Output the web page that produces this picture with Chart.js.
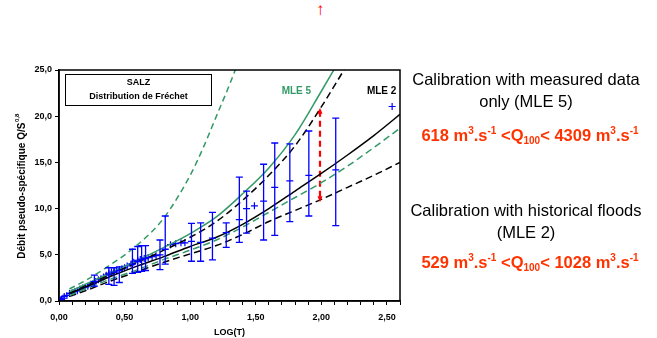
<!DOCTYPE html>
<html lang="fr">
<head>
<meta charset="UTF-8">
<title>SALZ - Distribution de Fréchet</title>
<script src="https://cdn.jsdelivr.net/npm/chart.js"></script>
<style>
    body { margin: 0; background: #fff; font-family: "Liberation Sans", Arial, sans-serif; }
    .page { position: relative; width: 657px; height: 338px; overflow: hidden; }
    .chart-box { position: absolute; left: 0; top: 0; width: 410px; height: 338px; }
    .note { position: absolute; left: 401px; width: 250px; text-align: center; font-size: 16.5px; line-height: 22px; color: #000; }
    .range { position: absolute; left: 405px; width: 250px; text-align: center; font-size: 16.5px; font-weight: bold; color: #ff3300; white-space: nowrap; }
    .range sup { font-size: 10px; vertical-align: 7px; }
    .range sub { font-size: 10px; vertical-align: -3px; }
    .top-arrow { position: absolute; left: 316px; top: 0px; color: #ff0000; font-size: 17px; font-weight: bold; }
</style>
</head>
<body>
<div class="page">
    <span class="top-arrow">↑</span>
    <div class="chart-box"><canvas id="chart" width="410" height="338"></canvas></div>

    <div class="note" style="top:68px;">Calibration with measured data<br>only (MLE 5)</div>
    <div class="range" style="top:125px;">618 m<sup>3</sup>.s<sup>-1</sup> &lt;Q<sub>100</sub>&lt; 4309 m<sup>3</sup>.s<sup>-1</sup></div>

    <div class="note" style="top:199px;">Calibration with historical floods<br>(MLE 2)</div>
    <div class="range" style="top:252px;">529 m<sup>3</sup>.s<sup>-1</sup> &lt;Q<sub>100</sub>&lt; 1028 m<sup>3</sup>.s<sup>-1</sup></div>
</div>

<script>
// courbes de Fréchet
const mle5UpX = [0.08, 0.2, 0.4, 0.6, 0.8, 1.0, 1.1, 1.2, 1.3, 1.36];
const mle5UpY = [1.3, 2.2, 4.0, 6.1, 9.0, 13.6, 16.6, 20.0, 23.4, 25.6];

const mle5X = [0.08, 0.2, 0.4, 0.6, 0.8, 1.0, 1.2, 1.4, 1.6, 1.8, 2.0, 2.12];
const mle5Y = [1.0, 1.8, 3.1, 4.4, 5.8, 7.3, 9.1, 11.6, 14.4, 18.0, 22.7, 25.6];

const mle2UpX = [0.08, 0.2, 0.4, 0.6, 0.8, 1.0, 1.2, 1.4, 1.6, 1.8, 2.0, 2.19];
const mle2UpY = [0.9, 1.7, 2.9, 4.2, 5.5, 6.9, 8.6, 10.9, 13.6, 16.8, 21.0, 25.4];

const mle2X = [0.08, 0.2, 0.4, 0.6, 0.8, 1.0, 1.2, 1.4, 1.6, 1.8, 2.0, 2.2, 2.4, 2.6];
const mle2Y = [0.8, 1.5, 2.7, 3.8, 4.8, 5.9, 6.9, 8.3, 10.0, 11.9, 13.8, 15.8, 17.9, 20.2];

const mle5LowX = [0.08, 0.2, 0.4, 0.6, 0.8, 1.0, 1.2, 1.4, 1.6, 1.8, 2.0, 2.2, 2.4, 2.6];
const mle5LowY = [0.6, 1.3, 2.4, 3.4, 4.5, 5.5, 6.6, 8.0, 9.6, 11.2, 12.8, 14.6, 16.6, 18.7];

const mle2LowX = [0.08, 0.2, 0.4, 0.6, 0.8, 1.0, 1.2, 1.4, 1.6, 1.8, 2.0, 2.2, 2.4, 2.6];
const mle2LowY = [0.5, 1.1, 2.2, 3.2, 4.2, 5.1, 6.0, 7.2, 8.6, 9.8, 11.0, 12.3, 13.6, 15.0];

// observations (croix bleues)
const obsX = [0.01, 0.02, 0.03, 0.04, 0.06, 0.08, 0.10, 0.12, 0.14, 0.16, 0.18, 0.20, 0.22, 0.24,
              0.26, 0.28, 0.30, 0.32, 0.34, 0.36, 0.38, 0.40, 0.42, 0.44, 0.46, 0.48, 0.50, 0.52,
              0.55, 0.57, 0.60, 0.62, 0.65, 0.68, 0.71, 0.74, 0.85, 0.89, 0.93, 0.96, 1.49, 2.54];
const obsY = [0.1, 0.2, 0.3, 0.5, 0.6, 0.8, 0.9, 1.0, 1.1, 1.3, 1.4, 1.5, 1.6, 1.8,
              1.9, 2.1, 2.3, 2.4, 2.6, 2.8, 3.0, 3.1, 3.2, 3.3, 3.4, 3.5, 3.6, 3.8,
              4.0, 4.2, 4.4, 4.5, 4.6, 4.7, 4.8, 4.9, 6.1, 6.2, 6.3, 6.3, 10.3, 21.05];

// intervalles de confiance (barres d'erreur)
const barX    = [0.27, 0.38, 0.42, 0.46, 0.56, 0.60, 0.63, 0.66, 0.77, 0.81, 1.01, 1.08, 1.17, 1.275, 1.375, 1.43, 1.56, 1.645, 1.76, 1.905, 2.11];
const barMid  = [2.1, 2.9, 3.1, 3.3, 4.0, 4.3, 4.5, 4.6, 5.0, 5.6, 6.45, 6.35, 6.8, 7.4, 8.8, 10.0, 10.8, 12.3, 13.0, 13.6, 14.2];
const barLow  = [1.6, 1.8, 1.7, 2.0, 3.0, 3.1, 3.2, 3.3, 3.4, 4.0, 4.3, 4.3, 4.45, 5.8, 6.35, 7.35, 6.6, 7.1, 8.6, 9.2, 8.15];
const barHigh = [2.8, 3.6, 3.6, 3.7, 5.6, 5.9, 6.0, 6.0, 6.6, 9.2, 8.4, 8.45, 9.6, 8.45, 13.4, 11.9, 14.8, 17.1, 17.0, 18.4, 19.8];

// flèche rouge (écart Q100)
const arrowX = [1.99, 1.99];
const arrowY = [20.6, 11.0];

const curveLabels = ['MLE 5', 'MLE 2'];
const curveLabelX = [1.81, 2.46];
const curveLabelY = [22.7, 22.7];
const curveLabelColor = ['#339966', '#000000'];

const green = '#339966';
const blue = '#0000ff';

function pts(xs, ys) { return xs.map((x, i) => ({ x: x, y: ys[i] })); }
function fmt(v, d) { return v.toFixed(d).replace('.', ','); }

function curve(xs, ys, color, dash, width) {
    return {
        type: 'line',
        data: pts(xs, ys),
        borderColor: color,
        borderWidth: width,
        borderDash: dash,
        pointRadius: 0,
        fill: false,
        cubicInterpolationMode: 'monotone'
    };
}

const decor = {
    id: 'decor',
    afterDatasetsDraw(chart) {
        const ctx = chart.ctx;
        const xs = chart.scales.x, ys = chart.scales.y;
        const a = chart.chartArea;
        ctx.save();
        ctx.beginPath();
        ctx.rect(a.left, a.top, a.right - a.left, a.bottom - a.top);
        ctx.clip();
        // barres d'erreur
        ctx.strokeStyle = blue;
        ctx.lineWidth = 1.3;
        barX.forEach((bx, i) => {
            const px = xs.getPixelForValue(bx);
            const lo = ys.getPixelForValue(barLow[i]);
            const hi = ys.getPixelForValue(barHigh[i]);
            const mid = ys.getPixelForValue(barMid[i]);
            ctx.beginPath();
            ctx.moveTo(px, lo); ctx.lineTo(px, hi);
            ctx.moveTo(px - 3.5, lo); ctx.lineTo(px + 3.5, lo);
            ctx.moveTo(px - 3.5, hi); ctx.lineTo(px + 3.5, hi);
            ctx.moveTo(px - 3.5, mid); ctx.lineTo(px + 3.5, mid);
            ctx.stroke();
        });
        // pointes de la flèche rouge
        const ax = xs.getPixelForValue(arrowX[0]);
        const y1 = ys.getPixelForValue(arrowY[0]);
        const y2 = ys.getPixelForValue(arrowY[1]);
        ctx.fillStyle = '#ff0000';
        ctx.beginPath();
        ctx.moveTo(ax, y1 - 3); ctx.lineTo(ax - 2.5, y1 + 3); ctx.lineTo(ax + 2.5, y1 + 3); ctx.closePath();
        ctx.moveTo(ax, y2 + 3); ctx.lineTo(ax - 2.5, y2 - 3); ctx.lineTo(ax + 2.5, y2 - 3); ctx.closePath();
        ctx.fill();
        ctx.restore();
    },
    afterDraw(chart) {
        const ctx = chart.ctx;
        const a = chart.chartArea;
        const xs = chart.scales.x, ys = chart.scales.y;
        ctx.save();
        // cadre
        ctx.strokeStyle = '#000';
        ctx.lineWidth = 1.5;
        ctx.strokeRect(a.left, a.top, a.right - a.left, a.bottom - a.top);

        // encadré SALZ
        ctx.lineWidth = 1;
        ctx.strokeRect(a.left + 6.5, a.top + 4.5, 146, 31);
        ctx.fillStyle = '#000';
        ctx.textAlign = 'center';
        ctx.textBaseline = 'middle';
        ctx.font = 'bold 9px "Liberation Sans", Arial, sans-serif';
        ctx.fillText('SALZ', a.left + 79.5, a.top + 13);
        ctx.fillText('Distribution de Fréchet', a.left + 79.5, a.top + 27);

        // étiquettes des courbes
        ctx.font = 'bold 10px "Liberation Sans", Arial, sans-serif';
        curveLabels.forEach((t, i) => {
            ctx.fillStyle = curveLabelColor[i];
            ctx.fillText(t, xs.getPixelForValue(curveLabelX[i]), ys.getPixelForValue(curveLabelY[i]));
        });

        // titre axe Y avec exposant
        const main = 'Débit pseudo-spécifique Q/S';
        const sup = '0,8';
        ctx.translate(22, (a.top + a.bottom) / 2 + 1);
        ctx.rotate(-Math.PI / 2);
        ctx.fillStyle = '#000';
        ctx.font = 'bold 10px "Liberation Sans", Arial, sans-serif';
        const w1 = ctx.measureText(main).width;
        ctx.font = 'bold 6px "Liberation Sans", Arial, sans-serif';
        const w2 = ctx.measureText(sup).width;
        const start = -(w1 + w2) / 2;
        ctx.textAlign = 'left';
        ctx.font = 'bold 10px "Liberation Sans", Arial, sans-serif';
        ctx.fillText(main, start, 0);
        ctx.font = 'bold 6px "Liberation Sans", Arial, sans-serif';
        ctx.fillText(sup, start + w1 + 0.5, -5);
        ctx.restore();
    }
};

const tickFont = { family: '"Liberation Sans", Arial, sans-serif', size: 9, weight: 'bold' };

new Chart(document.getElementById('chart'), {
    type: 'scatter',
    data: {
        datasets: [
            curve(mle5UpX, mle5UpY, green, [6, 4], 1.5),
            curve(mle5X, mle5Y, green, [], 1.5),
            curve(mle2UpX, mle2UpY, '#000', [7, 4], 1.5),
            curve(mle2X, mle2Y, '#000', [], 1.5),
            curve(mle5LowX, mle5LowY, green, [7, 4], 1.5),
            curve(mle2LowX, mle2LowY, '#000', [7, 4], 1.5),
            {
                type: 'scatter',
                data: pts(obsX, obsY),
                pointStyle: 'cross',
                pointRadius: 3.5,
                borderColor: blue,
                borderWidth: 1.2,
                backgroundColor: blue
            },
            {
                type: 'line',
                data: pts(arrowX, arrowY),
                borderColor: '#ff0000',
                borderWidth: 2.2,
                borderDash: [6, 4],
                pointRadius: 0,
                fill: false
            }
        ]
    },
    options: {
        responsive: false,
        animation: false,
        layout: { padding: { top: 70, right: 10, left: 0, bottom: 0 } },
        plugins: { legend: { display: false }, tooltip: { enabled: false } },
        scales: {
            x: {
                type: 'linear',
                min: 0,
                max: 2.6,
                afterFit: s => { s.height = 37; },
                ticks: {
                    stepSize: 0.1,
                    autoSkip: false,
                    maxRotation: 0,
                    padding: 7,
                    color: '#000',
                    font: tickFont,
                    callback: v => (Math.round(v * 10) % 5 === 0 && v < 2.55) ? fmt(v, 2) : ''
                },
                grid: { display: true, drawOnChartArea: false, drawTicks: true, tickLength: 4, color: '#000' },
                border: { color: '#000', width: 1.5 },
                title: { display: true, text: 'LOG(T)', color: '#000', font: tickFont, padding: { top: 0, bottom: 0 } }
            },
            y: {
                min: 0,
                max: 25,
                afterFit: s => { s.width = 59; },
                ticks: {
                    stepSize: 5,
                    padding: 3,
                    color: '#000',
                    font: tickFont,
                    callback: v => fmt(v, 1)
                },
                grid: { display: true, drawOnChartArea: false, drawTicks: true, tickLength: 4, color: '#000' },
                border: { color: '#000', width: 1.5 }
            }
        }
    },
    plugins: [decor]
});
</script>
</body>
</html>
